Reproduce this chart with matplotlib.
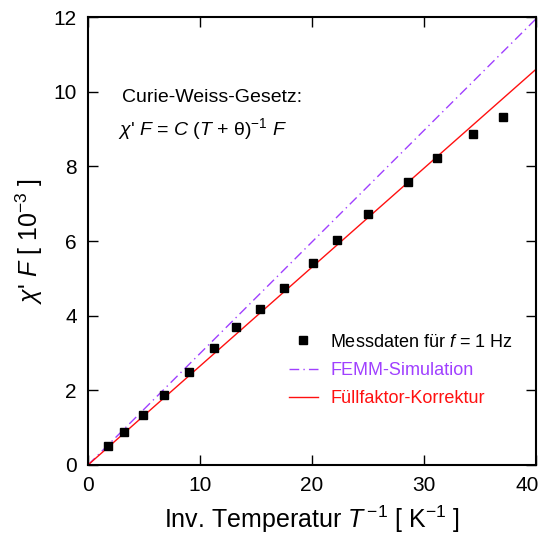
import matplotlib
matplotlib.use("Agg")
import matplotlib.pyplot as plt
from matplotlib.transforms import ScaledTranslation
import numpy as np

plt.rcParams['font.family'] = ['Liberation Sans', 'DejaVu Sans']
plt.rcParams['mathtext.fontset'] = 'custom'
plt.rcParams['mathtext.rm'] = 'Liberation Sans'
plt.rcParams['mathtext.it'] = 'Liberation Sans:italic'

# Measured data (inverse temperature [1/K], chi' F [1e-3])
inv_T = [1.8, 3.2, 4.9, 6.8, 9.0, 11.25, 13.2, 15.4, 17.5, 20.1, 22.2, 25.0, 28.6, 31.2, 34.4, 37.05]
chiF = [0.51, 0.88, 1.34, 1.88, 2.49, 3.13, 3.70, 4.18, 4.74, 5.41, 6.03, 6.72, 7.58, 8.22, 8.87, 9.32]

# Model lines
line_x = [0, 40]
femm_y = [0, 11.95]
fuell_y = [0, 10.6]

xticks = [0, 10, 20, 30, 40]
yticks = [0, 2, 4, 6, 8, 10, 12]

fig = plt.figure(figsize=(5.42, 5.37), dpi=100)
ax = fig.add_axes([88/542, 1-465/537, 448/542, 448/537])

ax.plot(line_x, femm_y, color='#a040ff', lw=1.0, dashes=(7, 3, 1, 3), label='FEMM-Simulation')
ax.plot(line_x, fuell_y, color='#ff1010', lw=1.0, label='Füllfaktor-Korrektur')
ax.plot(inv_T, chiF, 's', color='black', ms=5.5, ls='none', label='Messdaten für $f$ = 1 Hz', zorder=5)

ax.set_xlim(0, 40)
ax.set_ylim(0, 12)
ax.set_xticks(xticks)
ax.set_yticks(yticks)
ax.tick_params(direction='in', top=True, right=True, length=7, width=1, labelsize=15, pad=8)
for s in ax.spines.values():
    s.set_linewidth(1.5)

# shift the last x tick label so it stays inside the figure
lbl = ax.get_xticklabels()[-1]
lbl.set_transform(lbl.get_transform() + ScaledTranslation(-9/100, 0, fig.dpi_scale_trans))

ax.set_xlabel(r"Inv. Temperatur $T^{\,\mathrm{-1}}$ [ K$^{\mathrm{-1}}$ ]", fontsize=18, labelpad=6)
ax.set_ylabel(r"$\chi$' $F$ [ 10$^{\mathrm{-3}}$ ]", fontsize=18, labelpad=6)

ax.text(0.075, 0.82, "Curie-Weiss-Gesetz:", transform=ax.transAxes, fontsize=14, ha='left', va='center')
ax.text(0.066, 0.75, r"$\chi$' $F$ = $C$ ($T$ + θ)$^{\mathrm{-1}}$ $F$", transform=ax.transAxes,
        fontsize=14, ha='left', va='center')

handles, labels = ax.get_legend_handles_labels()
order = [2, 0, 1]
leg = ax.legend([handles[i] for i in order], [labels[i] for i in order],
                loc='lower right', bbox_to_anchor=(0.985, 0.093), frameon=False,
                fontsize=13, handlelength=1.6, labelspacing=0.62, handletextpad=0.7)
for t, c in zip(leg.get_texts(), ['black', '#a040ff', '#ff1010']):
    t.set_color(c)

fig.savefig("out.png", dpi=100)
